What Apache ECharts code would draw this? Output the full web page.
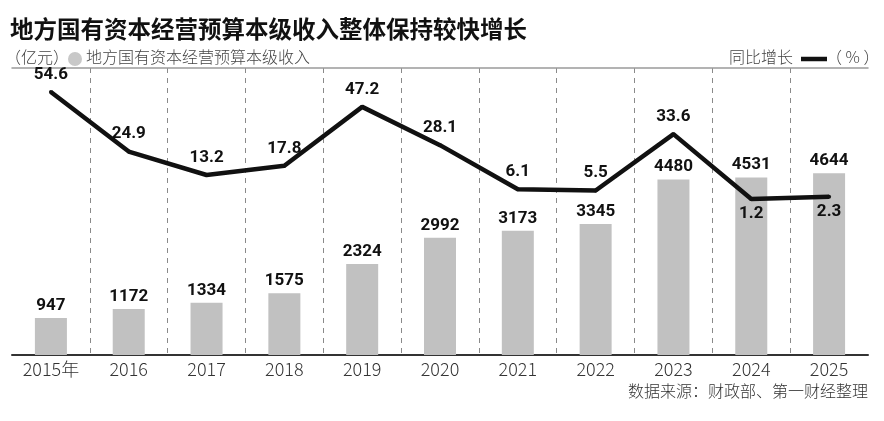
<!DOCTYPE html>
<html>
<head>
<meta charset="utf-8">
<script src="https://cdn.jsdelivr.net/npm/echarts@6/dist/echarts.min.js"></script>
<style>
  html, body { margin: 0; padding: 0; background: #fff; }
  #main { width: 884px; height: 421px; }
</style>
</head>
<body>
<div id="main"></div>
<script>
// 年份、本级收入(亿元)、同比增长(%)
const years = ["2015年", "2016", "2017", "2018", "2019", "2020", "2021", "2022", "2023", "2024", "2025"];
const income = [947, 1172, 1334, 1575, 2324, 2992, 3173, 3345, 4480, 4531, 4644];
const growth = [54.6, 24.9, 13.2, 17.8, 47.2, 28.1, 6.1, 5.5, 33.6, 1.2, 2.3];

const barName = "地方国有资本经营预算本级收入";
const lineName = "同比增长";
const numFont = "Roboto";
const cjkFont = "Noto Sans CJK SC";

// 最后两年的增长标签放在线下方
const growthData = growth.map((v, i) => ({
  value: v,
  label: i >= 9 ? { position: "bottom", distance: 4 } : undefined
}));

const chart = echarts.init(document.getElementById("main"));

chart.setOption({
  backgroundColor: "#fff",
  animation: false,
  grid: { left: 12, right: 16, top: 68, bottom: 66 },
  xAxis: [
    {
      type: "category",
      data: years,
      axisLine: { onZero: false, lineStyle: { color: "#333", width: 2 } },
      axisTick: { show: false },
      axisLabel: { color: "#333", fontSize: 18, fontFamily: cjkFont, fontWeight: 300, margin: 5 },
      splitLine: {
        show: true,
        showMinLine: false,
        showMaxLine: false,
        lineStyle: { color: "#8a8a8a", width: 1, type: [5, 5] }
      }
    },
    {
      type: "category",
      position: "top",
      data: years,
      axisLine: { onZero: false, lineStyle: { color: "#9a9a9a", width: 1.5 } },
      axisTick: { show: false },
      axisLabel: { show: false }
    }
  ],
  yAxis: [
    { type: "value", min: 0, max: 7330, show: false },
    { type: "value", min: -76.6, max: 66.6, show: false }
  ],
  series: [
    {
      name: barName,
      type: "bar",
      data: income,
      barWidth: 32,
      itemStyle: { color: "#c1c1c1" },
      label: {
        show: true,
        position: "top",
        distance: 4,
        color: "#111",
        fontSize: 17,
        fontWeight: "bold",
        fontFamily: numFont
      }
    },
    {
      name: lineName,
      type: "line",
      yAxisIndex: 1,
      data: growthData,
      symbol: "circle",
      symbolSize: 4,
      itemStyle: { color: "#111" },
      lineStyle: { color: "#111", width: 4.5 },
      label: {
        show: true,
        position: "top",
        distance: 7,
        color: "#111",
        fontSize: 17,
        fontWeight: "bold",
        fontFamily: numFont
      },
      z: 5
    }
  ],
  graphic: [
    {
      type: "text",
      left: 10,
      top: 17,
      style: {
        text: "地方国有资本经营预算本级收入整体保持较快增长",
        font: "bold 23.5px 'Noto Sans CJK SC'",
        fill: "#111"
      }
    },
    {
      type: "text",
      left: 5,
      top: 49,
      style: { text: "（亿元）", font: "300 16px 'Noto Sans CJK SC'", fill: "#444" }
    },
    {
      type: "circle",
      shape: { cx: 75, cy: 59, r: 7 },
      style: { fill: "#c8c8c8" }
    },
    {
      type: "text",
      left: 86,
      top: 49,
      style: { text: barName, font: "300 16px 'Noto Sans CJK SC'", fill: "#444" }
    },
    {
      type: "text",
      left: 729,
      top: 49,
      style: { text: lineName, font: "300 16px 'Noto Sans CJK SC'", fill: "#444" }
    },
    {
      type: "line",
      shape: { x1: 801, y1: 59, x2: 827, y2: 59 },
      style: { stroke: "#111", lineWidth: 4.5 }
    },
    {
      type: "text",
      left: 826,
      top: 49,
      style: { text: "（ % ）", font: "300 16px 'Noto Sans CJK SC'", fill: "#444" }
    },
    {
      type: "text",
      right: 16,
      top: 383,
      style: { text: "数据来源：财政部、第一财经整理", font: "300 16px 'Noto Sans CJK SC'", fill: "#333" }
    }
  ]
});
</script>
</body>
</html>
